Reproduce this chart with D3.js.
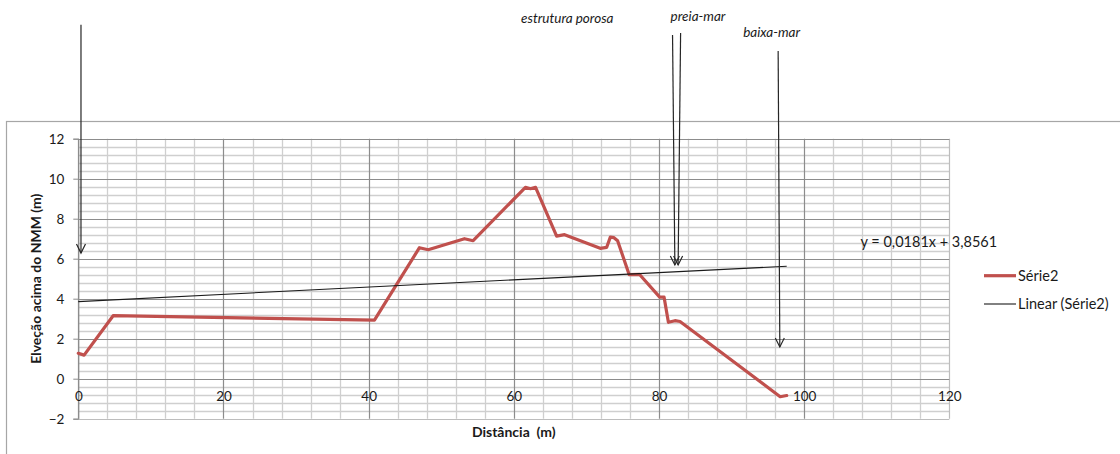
<!DOCTYPE html>
<html>
<head>
<meta charset="utf-8">
<script src="https://cdn.jsdelivr.net/npm/d3@7"></script>
<style>
  html, body { margin: 0; padding: 0; background: #fff; }
  svg { display: block; }
  text { font-family: Lato, "Open Sans", sans-serif; fill: #1a1a1a; white-space: pre; }
</style>
</head>
<body>
<svg id="chart" width="1120" height="454"></svg>
<script>
// ---- data ----
const distX = [0, 0.8, 4.8, 40.8, 47, 48.2, 53.2, 54.4, 61.6, 62.3, 63, 65.9, 67, 71.9, 72.8, 73.3, 73.8, 74.3, 75.9, 77.3, 80.1, 80.7, 81.3, 82.2, 82.9, 96.7, 97.6];
const elevY = [1.27, 1.18, 3.15, 2.93, 6.55, 6.45, 7.0, 6.9, 9.57, 9.5, 9.57, 7.13, 7.2, 6.52, 6.57, 7.08, 7.05, 6.9, 5.2, 5.22, 4.08, 4.08, 2.82, 2.9, 2.86, -0.9, -0.84];
const trendSlope = 0.0181;
const trendIntercept = 3.8561;
const xTickLabels = [0, 20, 40, 60, 80, 100, 120];
const yTickLabels = [-2, 0, 2, 4, 6, 8, 10, 12];
const seriesName = "Série2";
const trendName = "Linear (Série2)";
const equationText = "y = 0,0181x + 3,8561";
const xTitle = "Distância  (m)";
const yTitle = "Elveção acima do NMM (m)";
// annotation arrows in data units: [xTop, yTop, xBottom, yBottom]
const arrows = [
  [0.37, 17.7, 0.37, 6.28],
  [81.87, 17.19, 82.19, 5.69],
  [82.98, 17.29, 82.64, 5.69],
  [96.42, 16.39, 96.65, 1.59]
];
const annotLabels = ["estrutura porosa", "preia-mar", "baixa-mar"];
const annotPos = [[61.0, 17.8], [81.6, 17.9], [91.6, 17.1]]; // data units, text start / baseline

// ---- layout ----
const svg = d3.select("#chart");
const x = d3.scaleLinear().domain([0, 120]).range([78.3, 949.3]);
const y = d3.scaleLinear().domain([-2, 12]).range([418.7, 138.7]);

// chart frame
svg.append("rect").attr("x", 6.5).attr("y", 121.5).attr("width", 1200).attr("height", 400)
  .attr("fill", "none").attr("stroke", "#a6a6a6").attr("stroke-width", 1.2);

const g = svg.append("g");
// minor grid
const minorX = d3.range(0, 120.01, 4).filter(v => v % 20 !== 0);
const minorY = d3.range(-2, 12.01, 0.4).map(v => +v.toFixed(1)).filter(v => Math.abs(v / 2 - Math.round(v / 2)) > 1e-6);
g.selectAll(".mx").data(minorX).join("line")
  .attr("x1", d => Math.round(x(d)) + 0.5).attr("x2", d => Math.round(x(d)) + 0.5)
  .attr("y1", y(12)).attr("y2", y(-2)).attr("stroke", "#cfcfcf").attr("stroke-width", 1.3);
g.selectAll(".my").data(minorY).join("line")
  .attr("y1", d => Math.round(y(d)) + 0.5).attr("y2", d => Math.round(y(d)) + 0.5)
  .attr("x1", x(0)).attr("x2", x(120)).attr("stroke", "#cfcfcf").attr("stroke-width", 1.3);
// major grid
g.selectAll(".Mx").data(xTickLabels).join("line")
  .attr("x1", d => Math.round(x(d)) + 0.5).attr("x2", d => Math.round(x(d)) + 0.5)
  .attr("y1", y(12)).attr("y2", y(-2)).attr("stroke", d => d === 120 ? "#bdbdbd" : "#8c8c8c").attr("stroke-width", 1.2);
g.selectAll(".My").data(yTickLabels).join("line")
  .attr("y1", d => Math.round(y(d)) + 0.5).attr("y2", d => Math.round(y(d)) + 0.5)
  .attr("x1", x(0)).attr("x2", x(120)).attr("stroke", d => d === -2 ? "#bdbdbd" : "#8c8c8c").attr("stroke-width", 1.2);

// y axis
const yAxis = d3.axisLeft(y).tickValues(yTickLabels).tickSize(5).tickPadding(9).tickFormat(d3.format("d"));
const ya = svg.append("g").attr("transform", `translate(${x(0)},0)`).call(yAxis);
ya.select(".domain").attr("stroke", "#8c8c8c");
ya.selectAll(".tick line").attr("stroke", "#8c8c8c");
ya.selectAll("text").attr("font-size", 13.5).attr("fill", "#1a1a1a").attr("font-family", "Lato, sans-serif");

// x axis labels at y=0
const xAxis = d3.axisBottom(x).tickValues(xTickLabels).tickSize(0).tickPadding(13).tickFormat(d3.format("d"));
const xa = svg.append("g").attr("transform", `translate(0,${y(0)})`).call(xAxis);
xa.select(".domain").remove();
xa.selectAll("text").attr("font-size", 13.5).attr("fill", "#1a1a1a").attr("font-family", "Lato, sans-serif");

// axis titles
svg.append("text").attr("x", (x(0) + x(120)) / 2).attr("y", 437).attr("text-anchor", "middle")
  .attr("font-size", 14).attr("font-weight", "bold").text(xTitle);
svg.append("text").attr("transform", `translate(41,${(y(12) + y(-2)) / 2}) rotate(-90)`)
  .attr("text-anchor", "middle").attr("font-size", 14).attr("font-weight", "bold").text(yTitle);

// series
const pts = distX.map((d, i) => [d, elevY[i]]);
const line = d3.line().x(d => x(d[0])).y(d => y(d[1])).curve(d3.curveLinear);
svg.append("path").datum(pts).attr("d", line).attr("fill", "none")
  .attr("stroke", "#c0504d").attr("stroke-width", 3.2).attr("stroke-linejoin", "round").attr("stroke-linecap", "round");

// trendline
const xMax = d3.max(distX);
svg.append("line").attr("x1", x(0)).attr("y1", y(trendIntercept))
  .attr("x2", x(xMax)).attr("y2", y(trendSlope * xMax + trendIntercept))
  .attr("stroke", "#1a1a1a").attr("stroke-width", 1.1);

svg.append("text").attr("x", 860.5).attr("y", 247).attr("font-size", 14.5).text(equationText);

// legend
svg.append("line").attr("x1", 984).attr("x2", 1016).attr("y1", 275.7).attr("y2", 275.7)
  .attr("stroke", "#c0504d").attr("stroke-width", 3.2);
svg.append("text").attr("x", 1018).attr("y", 280.5).attr("font-size", 14.5).text(seriesName);
svg.append("line").attr("x1", 984).attr("x2", 1016).attr("y1", 304).attr("y2", 304)
  .attr("stroke", "#1a1a1a").attr("stroke-width", 1.1);
svg.append("text").attr("x", 1018).attr("y", 309).attr("font-size", 14.5).text(trendName);

// annotation arrows
arrows.forEach(a => {
  const x1 = x(a[0]), y1 = y(a[1]), x2 = x(a[2]), y2 = y(a[3]);
  svg.append("line").attr("x1", x1).attr("y1", y1).attr("x2", x2).attr("y2", y2)
    .attr("stroke", "#262626").attr("stroke-width", 1.2);
  svg.append("path").attr("d", `M${x2 - 4.5},${y2 - 9}L${x2},${y2}L${x2 + 4.5},${y2 - 9}`)
    .attr("fill", "none").attr("stroke", "#262626").attr("stroke-width", 1.2);
});
annotLabels.forEach((t, i) => {
  svg.append("text").attr("x", x(annotPos[i][0])).attr("y", y(annotPos[i][1]))
    .attr("font-size", 13.5).attr("font-style", "italic").text(t);
});
</script>
</body>
</html>
